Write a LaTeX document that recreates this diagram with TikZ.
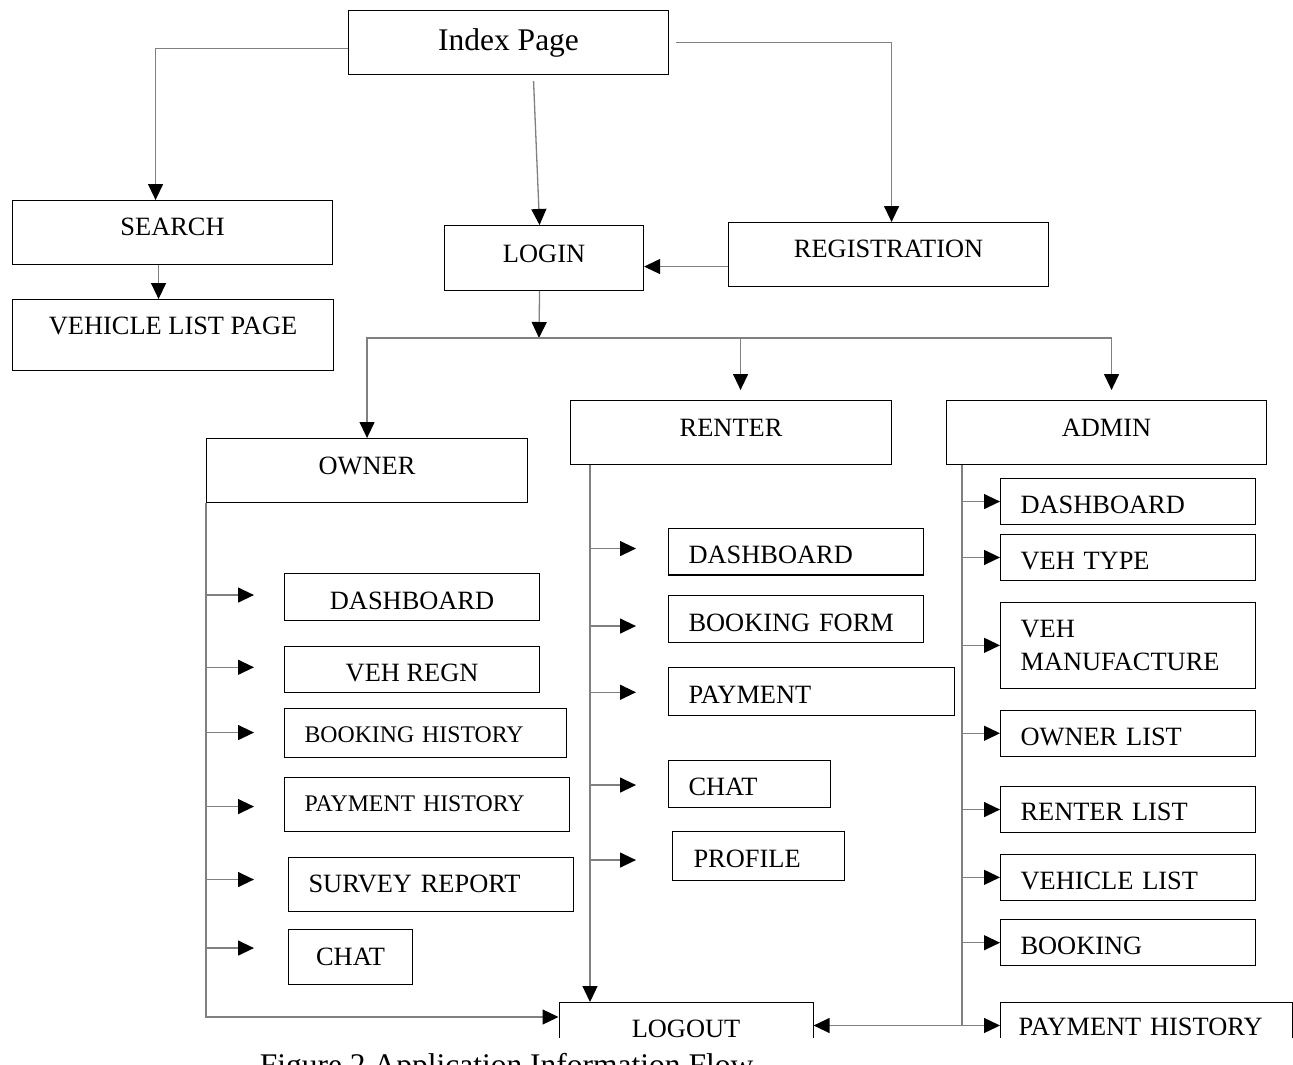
\documentclass[tikz,border=0pt]{standalone}
\usepackage{fontspec}
\setmainfont{Liberation Serif}
\usetikzlibrary{arrows.meta}

\tikzset{
  box/.style={draw, line width=1.1pt, inner ysep=0pt, anchor=north west,
    font=\fontsize{26.4}{32.5}\selectfont},
  lbox/.style={box, align=left, inner xsep=20pt, text width=#1},
  conn/.style={draw=black!50, line width=1.3pt,
    -{Triangle[length=16pt,width=15pt,color=black]}},
}

\begin{document}
\begin{tikzpicture}[x=1pt, y=-1pt]
  \useasboundingbox (0,0) rectangle (1293,1065);

  % top level
  \node[box, minimum width=320pt, text height=40pt, text depth=24pt,
    font=\fontsize{31.5}{36}\selectfont] (index) at (348,10) {Index Page};
  \node[box, minimum width=320pt, text height=35pt, text depth=29pt] (search) at (12,200) {SEARCH};
  \node[box, minimum width=321pt, text height=35pt, text depth=36pt] (vlist) at (12,299) {VEHICLE LIST PAGE};
  \node[box, minimum width=199pt, text height=37pt, text depth=28pt] (login) at (444,225) {LOGIN};
  \node[box, minimum width=320pt, text height=35pt, text depth=29pt] (regn) at (728,222) {REGISTRATION};

  % roles
  \node[box, minimum width=321pt, text height=36pt, text depth=28pt] (owner) at (206,438) {OWNER};
  \node[box, minimum width=321pt, text height=36pt, text depth=28pt] (renter) at (570,400) {RENTER};
  \node[box, minimum width=320pt, text height=36pt, text depth=28pt] (admin) at (946,400) {ADMIN};

  % owner pages
  \node[box, minimum width=255pt, text height=36pt, text depth=11pt] (odash) at (284,573) {DASHBOARD};
  \node[box, minimum width=255pt, text height=35.5pt, text depth=11pt] (oregn) at (284,645.5) {VEH REGN};
  \node[lbox=242pt, text height=34pt, text depth=15pt,
    font=\fontsize{23.8}{28}\selectfont] (obook) at (284,707.5) {BOOKING HISTORY};
  \node[lbox=245pt, text height=34.4pt, text depth=19.6pt,
    font=\fontsize{23.8}{28}\selectfont] (opay) at (284,777) {PAYMENT HISTORY};
  \node[lbox=245pt, text height=35pt, text depth=19pt] (osurvey) at (288,857) {SURVEY REPORT};
  \node[box, minimum width=124pt, text height=36pt, text depth=19pt] (ochat) at (288,929) {CHAT};

  % renter pages
  \node[lbox=215pt, text height=35.8pt, text depth=11pt] (rdash) at (668,527.6) {DASHBOARD};
  \node[lbox=215pt, text height=36pt, text depth=11pt] (rbook) at (668,595) {BOOKING FORM};
  \node[lbox=246pt, text height=36pt, text depth=11.5pt] (rpay) at (668,667) {PAYMENT};
  \node[lbox=122pt, text height=34.8pt, text depth=12.2pt] (rchat) at (668,760) {CHAT};
  \node[lbox=130pt, inner xsep=21pt, text height=36pt, text depth=13pt] (rprof) at (672,831) {PROFILE};

  % admin pages
  \node[lbox=215pt, text height=35pt, text depth=11pt] (adash) at (1000,478) {DASHBOARD};
  \node[lbox=215pt, text height=35pt, text depth=11.4pt] (atype) at (1000,533.7) {VEH TYPE};
  \node[lbox=215pt, minimum height=86pt] (amanu) at (1000,601.8) {VEH\\MANUFACTURE};
  \node[lbox=215pt, text height=35pt, text depth=11pt] (aowner) at (1000,709.7) {OWNER LIST};
  \node[lbox=215pt, text height=34pt, text depth=12pt] (arenter) at (1000,786) {RENTER LIST};
  \node[lbox=215pt, text height=35pt, text depth=11pt] (avlist) at (1000,853.8) {VEHICLE LIST};
  \node[lbox=215pt, text height=34.7pt, text depth=11pt] (abook) at (1000,919.3) {BOOKING};
  \node[lbox=256pt, inner xsep=18pt, text height=33pt, text depth=30pt] (apay) at (1000,1002) {PAYMENT HISTORY};

  \node[box, minimum width=254pt, text height=34.5pt, text depth=30pt] (logout) at (558.5,1002) {LOGOUT};

  % index links
  \coordinate (sv) at ([xshift=-14pt]search.south);
  \coordinate (rl) at ([yshift=-12pt]regn.west);
  \draw[conn] ([yshift=-6pt]index.west) -| ([xshift=-17pt]search.north);
  \draw[conn] ([xshift=25pt,yshift=-6pt]index.south) -- ([xshift=-4.5pt]login.north);
  \draw[conn] ([xshift=7pt]index.east) -| ([xshift=3pt]regn.north);
  \draw[conn] (rl) -- (rl -| login.east);
  \draw[conn] (sv) -- (sv |- vlist.north);

  % login split
  \coordinate (split) at (539,338);
  \draw[conn] ([xshift=-4.5pt]login.south) -- (split);
  \draw[conn] (split) -| (owner.north);
  \draw[conn] (split) -| ([xshift=9.5pt,yshift=10pt]renter.north);
  \draw[conn] (split) -| ([xshift=5pt,yshift=10pt]admin.north);

  % owner
  \draw[conn] (owner.south west) |- ([yshift=-15pt]logout.north west);
  \foreach \b/\s in {odash/-2,oregn/-2,obook/0,opay/2,osurvey/-5,ochat/-9}
    \draw[conn] (owner.south west |- \b.west) ++(0,\s) -- ++(48,0);

  % renter
  \coordinate (rtop) at ([xshift=20pt]renter.south west);
  \draw[conn] (rtop) -- (rtop |- logout.north);
  \foreach \b/\s in {rdash/-3,rbook/7,rpay/1,rchat/1,rprof/4}
    \draw[conn] (rtop |- \b.west) ++(0,\s) -- ++(46,0);

  % admin
  \coordinate (atop) at ([xshift=16pt]admin.south west);
  \coordinate (abot) at (962,1025.5);
  \draw[conn] (atop) |- (abot -| apay.west);
  \draw[conn] (abot) -- (abot -| logout.east);
  \foreach \b in {adash,atype,amanu,aowner,arenter,avlist,abook}
    \draw[conn] (atop |- \b.west) -- (\b.west);

  % cut-off caption
  \fill[white] (0,1037.5) rectangle (1293,1066);
  \node[anchor=base, inner sep=0pt, font=\fontsize{31.5}{36}\selectfont] (caption)
    at (506.5,1075) {Figure 2 Application Information Flow};
\end{tikzpicture}
\end{document}
